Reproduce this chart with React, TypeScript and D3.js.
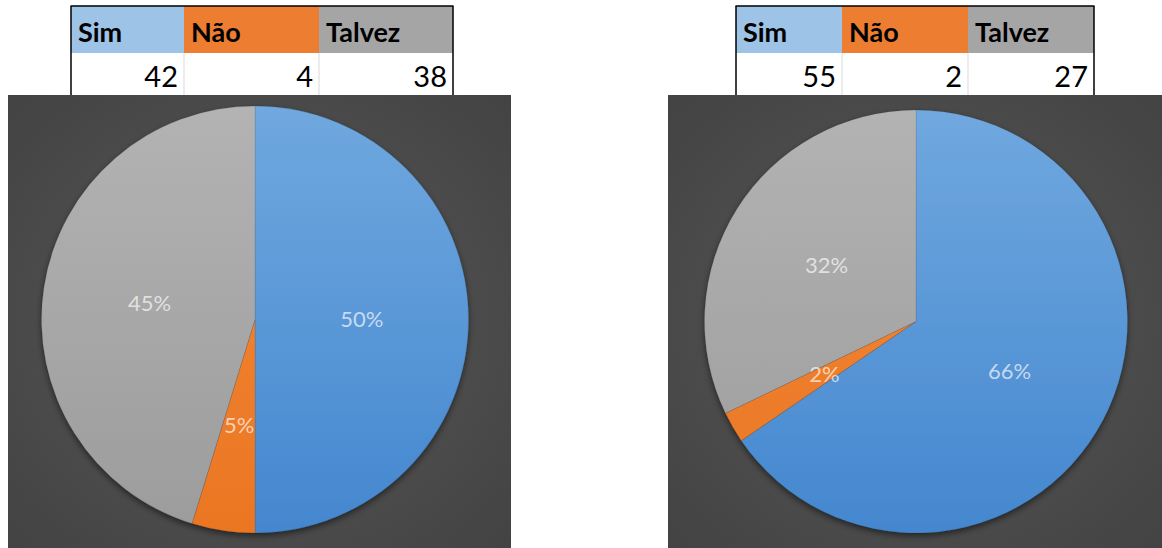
import React from "react";
import * as d3 from "d3";

const categories = ["Sim", "Não", "Talvez"];
const seriesA = [42, 4, 38];
const seriesB = [55, 2, 27];
const headerColors = ["#9dc3e6", "#ed7d31", "#a5a5a5"];

type PanelCfg = {
  values: number[];
  tableX: number[];
  bgX: number;
  bgW: number;
  cx: number;
  cy: number;
  r: number;
  id: string;
};

const panels: PanelCfg[] = [
  { values: seriesA, tableX: [71, 184, 319, 453], bgX: 8, bgW: 503, cx: 255, cy: 319.5, r: 213.5, id: "a" },
  { values: seriesB, tableX: [736, 842, 968, 1094], bgX: 668, bgW: 494, cx: 916, cy: 321.5, r: 211.5, id: "b" },
];

const sliceGrad = [
  ["#70a8df", "#4487cf"],
  ["#f28a3c", "#eb7622"],
  ["#b3b3b3", "#9c9c9c"],
];

// percentages rounded so they add up to 100 (largest remainder)
function percents(values: number[]): number[] {
  const total = d3.sum(values);
  const raw = values.map((v) => (v / total) * 100);
  const fl = raw.map((v) => Math.floor(v));
  let rest = 100 - d3.sum(fl);
  const order = raw.map((v, i) => i).sort((a, b) => (raw[b] - fl[b]) - (raw[a] - fl[a]));
  for (const i of order) {
    if (rest <= 0) break;
    fl[i] += 1;
    rest -= 1;
  }
  return fl;
}

function Panel({ p }: { p: PanelCfg }) {
  const pie = d3.pie<number>().sort(null).value((d) => d).startAngle(0).endAngle(2 * Math.PI);
  const arcs = pie(p.values);
  const arc = d3.arc<d3.PieArcDatum<number>>().innerRadius(0).outerRadius(p.r);
  const pct = percents(p.values);
  const [x0, x1, x2, x3] = p.tableX;
  const cols = [x0, x1, x2, x3];
  const font = "Lato, 'Open Sans', sans-serif";
  return (
    <g>
      {categories.map((c, i) => (
        <g key={c}>
          <rect x={cols[i]} y={6} width={cols[i + 1] - cols[i]} height={47} fill={headerColors[i]} />
          <text x={cols[i] + 7} y={42} fontFamily={font} fontWeight={700} fontSize={27} fill="#000">
            {c}
          </text>
          <text x={cols[i + 1] - 6} y={87} textAnchor="end" fontFamily={font} fontSize={29} fill="#000">
            {p.values[i]}
          </text>
        </g>
      ))}
      <line x1={x1} x2={x1} y1={53} y2={95} stroke="#d9d9d9" strokeWidth={1} />
      <line x1={x2} x2={x2} y1={53} y2={95} stroke="#d9d9d9" strokeWidth={1} />
      <line x1={x0 - 0.5} x2={x3 + 0.5} y1={6} y2={6} stroke="#000" strokeWidth={1.5} />
      <line x1={x0} x2={x0} y1={6} y2={95} stroke="#000" strokeWidth={1.5} />
      <line x1={x3} x2={x3} y1={6} y2={95} stroke="#000" strokeWidth={1.5} />

      <rect x={p.bgX} y={95} width={p.bgW} height={453} fill={`url(#bg-${p.id})`} />
      <g transform={`translate(${p.cx},${p.cy})`}>
        <g filter="url(#shadow)">
          {arcs.map((a, i) => (
            <path key={i} d={arc(a) || ""} fill={`url(#sg${i}-${p.id})`} stroke="rgba(0,0,0,0.12)" strokeWidth={0.75} />
          ))}
        </g>
        {arcs.map((a, i) => {
          const [lx, ly] = arc.centroid(a);
          return (
            <text
              key={"l" + i}
              x={lx}
              y={ly}
              dy="0.35em"
              textAnchor="middle"
              fontFamily={font}
              fontSize={22}
              fill="#ffffff"
              fillOpacity={0.66}
            >
              {pct[i] + "%"}
            </text>
          );
        })}
      </g>
    </g>
  );
}

export default function App() {
  return (
    <svg
      width={1162}
      height={548}
      style={{ position: "absolute", left: 0, top: 0, display: "block", background: "#fff" }}
    >
      <defs>
        {panels.map((p) => (
          <React.Fragment key={p.id}>
            <radialGradient id={`bg-${p.id}`} cx="50%" cy="50%" r="70%">
              <stop offset="0%" stopColor="#585858" />
              <stop offset="100%" stopColor="#434343" />
            </radialGradient>
            {sliceGrad.map((g, i) => (
              <linearGradient
                key={i}
                id={`sg${i}-${p.id}`}
                gradientUnits="userSpaceOnUse"
                x1={0}
                y1={-p.r}
                x2={0}
                y2={p.r}
              >
                <stop offset="0%" stopColor={g[0]} />
                <stop offset="100%" stopColor={g[1]} />
              </linearGradient>
            ))}
          </React.Fragment>
        ))}
        <filter id="shadow" x="-10%" y="-10%" width="120%" height="120%">
          <feDropShadow dx={0} dy={3} stdDeviation={3} floodColor="#000" floodOpacity={0.5} />
        </filter>
      </defs>
      {panels.map((p) => (
        <Panel key={p.id} p={p} />
      ))}
    </svg>
  );
}
